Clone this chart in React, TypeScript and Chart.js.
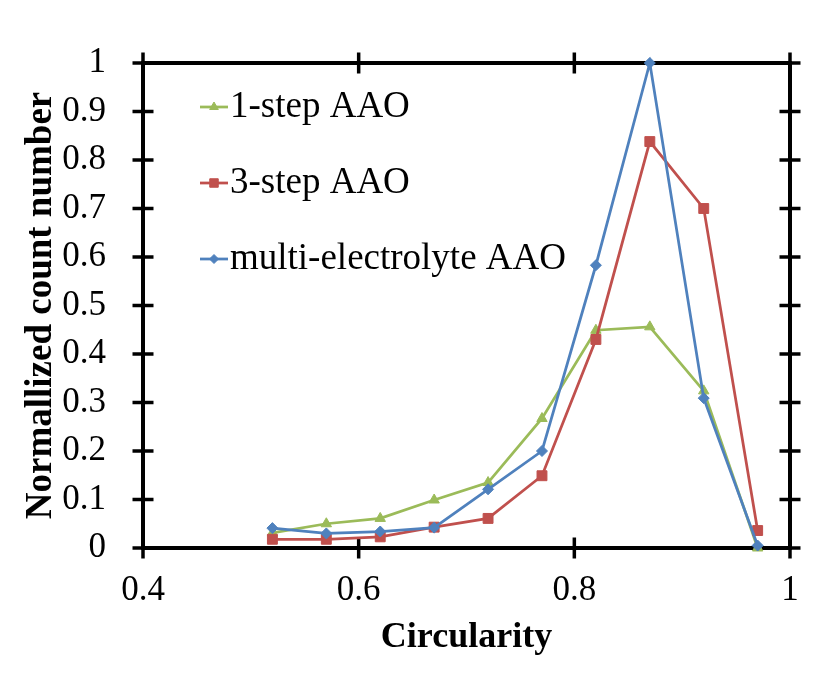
import React, { useEffect, useRef } from 'react';
import { Chart, registerables } from 'chart.js';
import { drawPoint } from 'chart.js/helpers';

Chart.register(...registerables);

const circularity = [0.52, 0.57, 0.62, 0.67, 0.72, 0.77, 0.82, 0.87, 0.92, 0.97];
const oneStep = [0.031, 0.05, 0.061, 0.099, 0.135, 0.267, 0.449, 0.456, 0.324, 0.0];
const threeStep = [0.018, 0.018, 0.023, 0.043, 0.061, 0.149, 0.43, 0.838, 0.7, 0.036];
const multiElectrolyte = [0.041, 0.03, 0.034, 0.042, 0.121, 0.2, 0.583, 1.0, 0.309, 0.005];
const seriesNames = ['1-step AAO', '3-step AAO', 'multi-electrolyte AAO'];
const seriesColors = ['#9BBB59', '#C0504D', '#4F81BD'];
const seriesMarkers = ['triangle', 'rect', 'rectRot'];
const seriesRadius = [6, 7, 5.5];
const xAxisTitle = 'Circularity';
const yAxisTitle = 'Normallized count number';

const FONT = '"Liberation Serif", "Times New Roman", serif';

const fmt = (v: number) => String(Number(Number(v).toFixed(1)));

const framePlugin = {
  id: 'frameTicks',
  beforeDatasetsDraw(chart: any) {
    const { ctx, chartArea, scales } = chart;
    const { left, right, top, bottom } = chartArea;
    const T = 10.5;
    ctx.save();
    ctx.strokeStyle = '#000';
    ctx.lineWidth = 4;
    ctx.strokeRect(left, top, right - left, bottom - top);
    ctx.lineWidth = 3.5;
    const seg = (x1: number, y1: number, x2: number, y2: number) => {
      ctx.beginPath();
      ctx.moveTo(x1, y1);
      ctx.lineTo(x2, y2);
      ctx.stroke();
    };
    scales.x.ticks.forEach((t: any) => {
      const px = scales.x.getPixelForValue(t.value);
      seg(px, bottom - T, px, bottom + T);
      seg(px, top - T, px, top + T);
    });
    scales.y.ticks.forEach((t: any) => {
      const py = scales.y.getPixelForValue(t.value);
      seg(left - T, py, left + T, py);
      seg(right - T, py, right + T, py);
    });
    ctx.restore();
  },
};

const legendPlugin = {
  id: 'insideLegend',
  afterDraw(chart: any) {
    const { ctx, chartArea } = chart;
    const x0 = chartArea.left + 57;
    const lineLen = 28;
    ctx.save();
    chart.data.datasets.forEach((ds: any, i: number) => {
      const yy = chartArea.top + 44 + i * 76;
      ctx.strokeStyle = ds.borderColor;
      ctx.lineWidth = ds.borderWidth;
      ctx.beginPath();
      ctx.moveTo(x0, yy);
      ctx.lineTo(x0 + lineLen, yy);
      ctx.stroke();
      ctx.fillStyle = ds.backgroundColor;
      ctx.strokeStyle = ds.borderColor;
      ctx.lineWidth = 1;
      drawPoint(ctx, { pointStyle: ds.pointStyle, radius: ds.pointRadius - 1, rotation: 0, borderWidth: 1 }, x0 + lineLen / 2, yy);
      ctx.fillStyle = '#000';
      ctx.font = `37px ${FONT}`;
      ctx.textBaseline = 'middle';
      ctx.textAlign = 'left';
      ctx.fillText(ds.label, x0 + lineLen + 2, yy);
    });
    ctx.restore();
  },
};

export default function App() {
  const canvasRef = useRef<HTMLCanvasElement | null>(null);

  useEffect(() => {
    if (!canvasRef.current) return;
    const series = [oneStep, threeStep, multiElectrolyte];
    const chart = new Chart(canvasRef.current, {
      type: 'line',
      data: {
        datasets: series.map((vals, i) => ({
          label: seriesNames[i],
          data: circularity.map((c, k) => ({ x: c, y: vals[k] })),
          borderColor: seriesColors[i],
          backgroundColor: seriesColors[i],
          borderWidth: 2.75,
          pointStyle: seriesMarkers[i],
          pointRadius: seriesRadius[i],
          pointBorderWidth: 1,
          tension: 0,
          clip: false,
          order: 2 - i,
        })),
      },
      options: {
        animation: false,
        responsive: false,
        maintainAspectRatio: false,
        layout: { padding: { top: 63, right: 35, left: 19, bottom: 14 } },
        plugins: {
          legend: { display: false },
          tooltip: { enabled: false },
        },
        scales: {
          x: {
            type: 'linear',
            min: 0.4,
            max: 1,
            grid: { display: false, drawTicks: false },
            border: { display: false },
            ticks: {
              stepSize: 0.2,
              padding: 22,
              color: '#000',
              font: { family: FONT, size: 35 },
              callback: (v: any) => fmt(v),
              maxRotation: 0,
            },
            title: {
              display: true,
              text: xAxisTitle,
              color: '#000',
              padding: 0,
              font: { family: FONT, size: 36, weight: 'bold' },
            },
            afterFit: (s: any) => {
              s.height = 111;
            },
          },
          y: {
            type: 'linear',
            min: 0,
            max: 1,
            grid: { display: false, drawTicks: false },
            border: { display: false },
            ticks: {
              stepSize: 0.1,
              padding: 37,
              color: '#000',
              font: { family: FONT, size: 35 },
              callback: (v: any) => fmt(v),
            },
            title: {
              display: true,
              text: yAxisTitle,
              color: '#000',
              padding: 0,
              font: { family: FONT, size: 37, weight: 'bold' },
            },
            afterFit: (s: any) => {
              s.width = 124;
            },
          },
        },
      },
      plugins: [framePlugin, legendPlugin],
    });
    return () => chart.destroy();
  }, []);

  return (
    <div style={{ position: 'fixed', left: 0, top: 0, width: 825, height: 673, background: '#fff' }}>
      <canvas ref={canvasRef} width={825} height={673} style={{ width: 825, height: 673 }} />
    </div>
  );
}
